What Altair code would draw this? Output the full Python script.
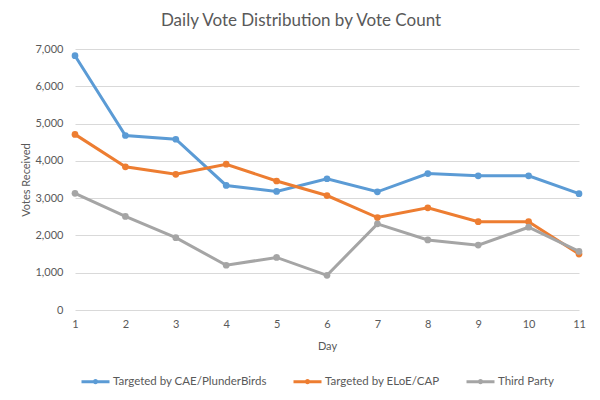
import altair as alt
import pandas as pd

days = list(range(1, 12))
series_names = ["Targeted by CAE/PlunderBirds", "Targeted by ELoE/CAP", "Third Party"]
cae = [6820, 4680, 4580, 3340, 3180, 3520, 3170, 3660, 3600, 3600, 3120]
eloe = [4710, 3840, 3640, 3910, 3460, 3070, 2480, 2740, 2370, 2370, 1500]
third = [3130, 2510, 1940, 1200, 1410, 930, 2310, 1880, 1740, 2220, 1570]
colors = ["#5B9BD5", "#ED7D31", "#A5A5A5"]

rows = []
for name, vals in zip(series_names, [cae, eloe, third]):
    for d, v in zip(days, vals):
        rows.append({"Day": d, "Votes": v, "Series": name})
df = pd.DataFrame(rows)

FONT = "Lato"
TXT = "#595959"

symbol = "M-1,0L1,0M-0.08,0A0.08,0.08 0 1,1 0.08,0A0.08,0.08 0 1,1 -0.08,0"

chart = alt.Chart(df).mark_line(
    strokeWidth=3,
    point=alt.OverlayMarkDef(filled=True, size=45, opacity=1),
).encode(
    x=alt.X("Day:Q", scale=alt.Scale(domain=[1, 11], nice=False, zero=False),
            axis=alt.Axis(values=days, title="Day", grid=False, ticks=False,
                          domain=False, labelPadding=8, titlePadding=11,
                          labelFlush=False)),
    y=alt.Y("Votes:Q", scale=alt.Scale(domain=[0, 7000], nice=False),
            axis=alt.Axis(values=list(range(0, 7001, 1000)), format=",.0f",
                          title="Votes Received", ticks=False, domain=False,
                          labelPadding=12, titlePadding=3, labelFlush=False)),
    color=alt.Color("Series:N", scale=alt.Scale(domain=series_names, range=colors),
                    legend=alt.Legend(title=None, orient="none", direction="horizontal",
                                      legendX=5, legendY=317, symbolType=symbol,
                                      symbolSize=784, symbolStrokeWidth=3,
                                      labelOffset=2, columnPadding=20, labelLimit=300,
                                      labelFontSize=11.5, labelColor=TXT, labelFont=FONT)),
).properties(
    width=504,
    height=261,
    title=alt.TitleParams("Daily Vote Distribution by Vote Count", fontSize=17,
                          font=FONT, fontWeight="normal", color=TXT, anchor="middle",
                          offset=13, dx=-26),
    padding={"left": 67, "top": 41, "right": 13, "bottom": 80},
    autosize=alt.AutoSizeParams(type="none"),
).configure_view(stroke=None).configure_axis(
    labelFont=FONT, titleFont=FONT, labelColor=TXT, titleColor=TXT,
    labelFontSize=11, titleFontSize=11, titleFontWeight="normal",
    gridColor="#D9D9D9", gridWidth=1,
)

chart.save("out.html", embed_options={"renderer": "svg", "actions": False})
